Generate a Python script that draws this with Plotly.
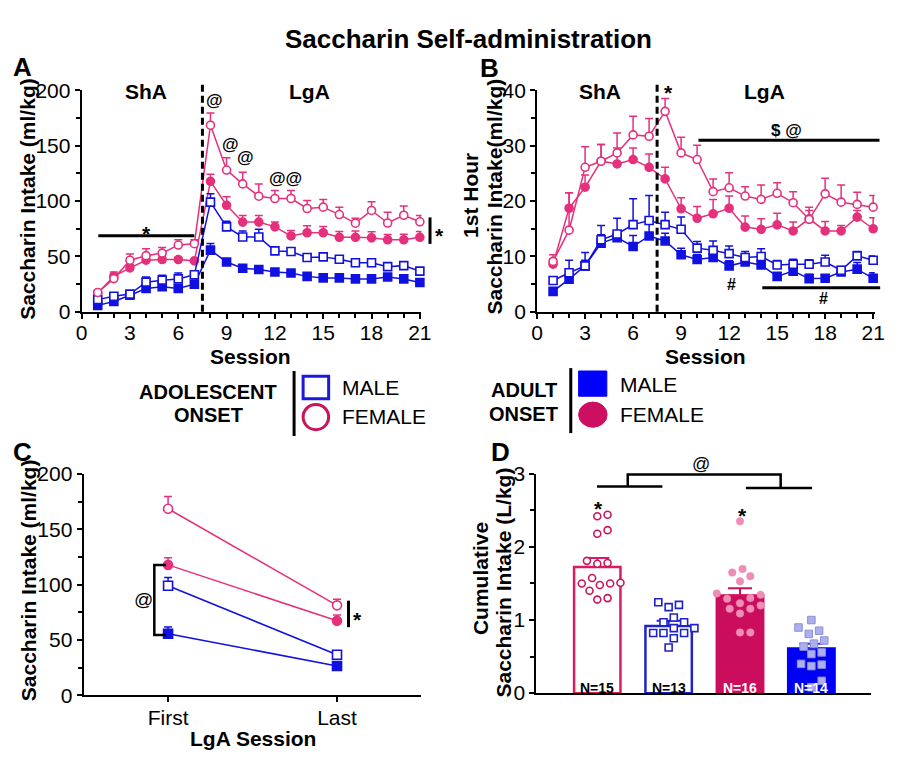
import plotly.graph_objects as go

W, H = 899, 774
FONT = "Liberation Sans, Arial, sans-serif"
PINK = "#E5307C"
BLUE = "#1010E0"

# ---------------- data ----------------
sessions = list(range(1, 22))

A_adol_m = [11, 14, 16, 26.8, 28.6, 29.7, 33.5, 99, 76.7, 67.6, 67.6, 55, 54.5, 49, 49.6, 47.5, 44.3, 44.3, 40.8, 41.7, 36.7]
A_adol_m_err = [1.5, 2, 2, 4.7, 4.4, 5.3, 3.5, 7.5, 5, 5.4, 7, 2.7, 2.5, 1.5, 1.5, 1.5, 1.5, 1.5, 1.5, 1.5, 1.5]
A_adol_f = [17.5, 30, 46.6, 50.7, 53, 60.3, 61.5, 168.5, 128, 115.5, 104.4, 102.3, 102.3, 93.3, 94.5, 87.8, 80, 91.5, 80.2, 87.2, 81.3]
A_adol_f_err = [1.5, 6, 5.6, 6.3, 5, 4.7, 3.5, 11, 11, 10.5, 11.1, 7.3, 7.3, 7.3, 7, 6.7, 4.5, 7.9, 9.8, 8.4, 5.6]
A_adult_m = [5.8, 9.3, 15, 21, 22.7, 21, 25, 55.7, 45, 39.4, 38.2, 36, 35, 32, 30.6, 30.6, 29.7, 29.7, 31.5, 29.7, 26.5]
A_adult_m_err = [1, 1, 1.5, 2, 2, 2, 2, 6, 1.6, 1.5, 1.5, 1.5, 1.5, 1.5, 1.5, 1.5, 1.5, 1.5, 1.5, 1.5, 1.2]
A_adult_f = [17, 32, 39.7, 46.6, 47.2, 47.2, 46, 117.8, 96.2, 81, 81, 76.7, 68.5, 71.4, 71.4, 67.3, 67.3, 66.8, 65, 65, 67.3]
A_adult_f_err = [1, 2.5, 3, 3, 2, 2, 2, 6.5, 7.6, 5.9, 6, 4.3, 5, 6.4, 5.6, 5.3, 5.7, 5.5, 4.7, 5, 5.2]

B_adol_m = [5.65, 7.05, 8.3, 13, 14.05, 15.75, 16.5, 15.75, 14.9, 11.5, 11.1, 10.5, 9.8, 10, 8.45, 8.6, 8.6, 9, 7.5, 10.1, 9.3]
B_adol_m_err = [0.5, 2.25, 2.4, 2.6, 2.85, 4.65, 4.5, 2.25, 2.2, 1.2, 1.7, 1.4, 1.1, 1.4, 0.8, 0.9, 0.8, 1.2, 0.7, 0.8, 0.8]
B_adol_f = [9.1, 14.75, 26.1, 27.2, 28.7, 31.95, 31.7, 36.2, 28.7, 27.5, 21.7, 22.4, 20.9, 20.3, 21.4, 19.7, 16.7, 21.3, 19.8, 19.4, 18.9]
B_adol_f_err = [1.2, 6.75, 3.7, 3.0, 3.6, 3.35, 3.2, 2.3, 2.8, 2.6, 2.3, 2.7, 1.7, 2.6, 1.9, 2.0, 2.2, 2.8, 3.1, 2.2, 2.1]
B_adult_m = [3.7, 5.9, 8.3, 12.4, 13.4, 11.8, 13.7, 12.8, 10.3, 9.45, 9.8, 8.3, 9, 8.45, 6.4, 7.35, 6, 6.05, 7.2, 7.7, 6.05]
B_adult_m_err = [0.3, 0.5, 1, 1.5, 1.2, 2.0, 2.2, 1.4, 1.2, 0.9, 1, 0.9, 0.8, 0.7, 0.6, 0.6, 0.8, 0.6, 0.5, 1.2, 1.0]
B_adult_f = [8.6, 18.7, 22.5, 27.2, 26.7, 27.5, 26.1, 24, 18.6, 16.9, 17.7, 18.7, 15.3, 14.9, 15.7, 14.6, 16.8, 14.6, 14.6, 17.1, 15]
B_adult_f_err = [1, 2.8, 2.2, 3.0, 2.9, 2.1, 2.4, 2.1, 2.0, 2.1, 2.6, 2.2, 2.0, 1.9, 2.1, 1.6, 1.5, 1.7, 1.0, 1.2, 2.0]

C_categories = ["First", "Last"]
C_index = [7, 20]  # first (session 8) and last (session 21) LgA sessions

D_groups = ["Adolescent female", "Adolescent male", "Adult female", "Adult male"]
D_means = [1.726, 0.92, 1.336, 0.61]
D_sem = [0.124, 0.07, 0.098, 0.067]
D_n = [15, 13, 16, 14]
D_adol_f = [2.42, 2.44, 2.23, 2.18, 1.77, 1.78, 1.81, 1.575, 1.48, 1.50, 1.50, 1.51, 1.40, 1.28, 1.30]
D_adol_m = [1.243, 1.177, 1.208, 1.035, 0.97, 0.97, 0.89, 0.89, 0.823, 0.823, 0.823, 0.75, 0.624]
D_adult_f = [2.35, 1.65, 1.70, 1.60, 1.53, 1.345, 1.363, 1.23, 1.29, 1.20, 1.155, 1.09, 1.155, 0.83, 0.83, 1.30]
D_adult_m = [1.0, 0.854, 0.898, 0.81, 0.72, 0.637, 0.677, 0.535, 0.557, 0.40, 0.37, 0.39, 0.168, 0.08]

# ---------------- geometry (pixels) ----------------
PAN = {
    "A": dict(x=(77, 423), xr=(0, 21.1), y=(309, 80.7), yr=(0, 200)),
    "B": dict(x=(540.7, 884.5), xr=(0, 21.1), y=(309, 80.7), yr=(0, 40)),
    "C": dict(x=(79, 423), xr=(-0.5, 1.5), y=(704.3, 476), yr=(0, 200)),
    "D": dict(x=(540, 881), xr=(-0.853, 3.84), y=(702, 476), yr=(0, 3)),
}


def px(p):
    return p / W


def py(p):
    return 1 - p / H


def dx2px(panel, v):
    g = PAN[panel]
    return g["x"][0] + (v - g["xr"][0]) / (g["xr"][1] - g["xr"][0]) * (g["x"][1] - g["x"][0])


fig = go.Figure()


def series(xv, yv, err, color, symbol, filled, xa, ya, size=8):
    fig.add_trace(go.Scatter(
        x=xv, y=yv, mode="lines+markers", xaxis=xa, yaxis=ya, cliponaxis=False,
        line=dict(color=color, width=1.5),
        marker=dict(symbol=symbol, size=size,
                    color=color if filled else "white",
                    line=dict(color=color, width=1.6)),
        error_y=dict(type="data", symmetric=False, array=err,
                     arrayminus=[0] * len(err), color=color, thickness=1.5, width=4),
        showlegend=False, hoverinfo="skip"))


# Panel A
series(sessions, A_adult_m, A_adult_m_err, BLUE, "square", True, "x", "y")
series(sessions, A_adult_f, A_adult_f_err, PINK, "circle", True, "x", "y")
series(sessions, A_adol_m, A_adol_m_err, BLUE, "square", False, "x", "y")
series(sessions, A_adol_f, A_adol_f_err, PINK, "circle", False, "x", "y")
# Panel B
series(sessions, B_adult_m, B_adult_m_err, BLUE, "square", True, "x2", "y2")
series(sessions, B_adult_f, B_adult_f_err, PINK, "circle", True, "x2", "y2")
series(sessions, B_adol_m, B_adol_m_err, BLUE, "square", False, "x2", "y2")
series(sessions, B_adol_f, B_adol_f_err, PINK, "circle", False, "x2", "y2")
# Panel C
cx = list(range(len(C_categories)))
for vals, errs, col, sym, fil in [
    (A_adult_m, A_adult_m_err, BLUE, "square", True),
    (A_adult_f, A_adult_f_err, PINK, "circle", True),
    (A_adol_m, A_adol_m_err, BLUE, "square", False),
    (A_adol_f, A_adol_f_err, PINK, "circle", False),
]:
    series(cx, [vals[i] for i in C_index], [errs[i] for i in C_index], col, sym, fil, "x3", "y3", size=9)

# Panel D bars
bar_fill = ["white", "white", "#CB0D5E", "#0000F5"]
bar_line = ["#DC1A64", "#1E22C8", "#CB0D5E", "#0000F5"]
err_col = ["#DC1A64", "#1E22C8", "#D0105C", "#2A2AE8"]
for i in range(len(D_groups)):
    fig.add_trace(go.Bar(
        x=[i], y=[D_means[i]], width=0.65, xaxis="x4", yaxis="y4",
        marker=dict(color=bar_fill[i], line=dict(color=bar_line[i], width=2.5)),
        error_y=dict(type="data", symmetric=False, array=[D_sem[i]], arrayminus=[0],
                     color=err_col[i], thickness=2, width=12),
        showlegend=False, hoverinfo="skip"))

g = PAN["D"]
ppu_x = (g["x"][1] - g["x"][0]) / (g["xr"][1] - g["xr"][0])
ppu_y = (g["y"][0] - g["y"][1]) / (g["yr"][1] - g["yr"][0])


def swarm(vals, diam=10.5):
    order = sorted(range(len(vals)), key=lambda i: vals[i])
    placed = []
    offs = [0.0] * len(vals)
    step = diam / 4
    cands = [0.0]
    for k in range(1, 60):
        cands += [k * step, -k * step]
    for i in order:
        yp = vals[i] * ppu_y
        c = 0.0
        for c in cands:
            if all((c - a) ** 2 + (yp - b) ** 2 >= diam ** 2 for a, b in placed):
                break
        placed.append((c, yp))
        offs[i] = c / ppu_x
    return offs


pts_style = [
    dict(symbol="circle", size=7, color="white", line=dict(color="#C8175C", width=1.6)),
    dict(symbol="square", size=7, color="white", line=dict(color="#1E22C8", width=1.6)),
    dict(symbol="circle", size=7.5, color="#F08DB5", line=dict(color="#EE86AF", width=0.5)),
    dict(symbol="square", size=7.5, color="#AEB0EC", line=dict(color="#8A8FDA", width=1)),
]
for i, vals in enumerate([D_adol_f, D_adol_m, D_adult_f, D_adult_m]):
    offs = swarm(vals)
    fig.add_trace(go.Scatter(
        x=[i + o for o in offs], y=vals, mode="markers", xaxis="x4", yaxis="y4",
        marker=pts_style[i], cliponaxis=False, showlegend=False, hoverinfo="skip"))

# ---------------- axes ----------------
axis_common = dict(showgrid=False, zeroline=False, showline=True, linecolor="black",
                   linewidth=2, ticks="outside", tickwidth=2, ticklen=5, tickcolor="black",
                   tickfont=dict(family=FONT, size=21, color="black"))


def xdom(p):
    g = PAN[p]
    return [px(g["x"][0]), px(g["x"][1])]


def ydom(p):
    g = PAN[p]
    return [py(g["y"][0]), py(g["y"][1])]


minor_x = dict(dtick=1, ticks="outside", ticklen=4, tickwidth=1.5, tickcolor="black")
minor_y = lambda d: dict(dtick=d, ticks="outside", ticklen=4, tickwidth=1.5, tickcolor="black")
fig.update_layout(
    xaxis=dict(axis_common, domain=xdom("A"), range=list(PAN["A"]["xr"]), tick0=0, dtick=3,
               minor=minor_x, anchor="y", ticklabelstandoff=-4),
    yaxis=dict(axis_common, domain=ydom("A"), range=list(PAN["A"]["yr"]), tick0=0, dtick=50,
               minor=minor_y(25), anchor="x"),
    xaxis2=dict(axis_common, domain=xdom("B"), range=list(PAN["B"]["xr"]), tick0=0, dtick=3,
                minor=minor_x, anchor="y2", ticklabelstandoff=-4),
    yaxis2=dict(axis_common, domain=ydom("B"), range=list(PAN["B"]["yr"]), tick0=0, dtick=10,
                minor=minor_y(5), anchor="x2"),
    xaxis3=dict(axis_common, domain=xdom("C"), range=list(PAN["C"]["xr"]), tickmode="array",
                tickvals=cx, ticktext=C_categories, anchor="y3", ticklabelstandoff=-3),
    yaxis3=dict(axis_common, domain=ydom("C"), range=list(PAN["C"]["yr"]), tick0=0, dtick=50,
                minor=minor_y(25), anchor="x3"),
    xaxis4=dict(axis_common, domain=xdom("D"), range=list(PAN["D"]["xr"]), ticks="",
                showticklabels=False, anchor="y4"),
    yaxis4=dict(axis_common, domain=ydom("D"), range=list(PAN["D"]["yr"]), tick0=0, dtick=1,
                minor=minor_y(0.5), anchor="x4"),
    barmode="overlay",
    width=W, height=H, margin=dict(l=0, r=0, t=0, b=0),
    paper_bgcolor="white", plot_bgcolor="white", showlegend=False,
)

# ---------------- annotations ----------------
anns = []


def ann(text, x, y, size=20, bold=False, color="black", xanchor="center", angle=0):
    anns.append(dict(text=("<b>%s</b>" % text) if bold else text, x=px(x), y=py(y),
                     xref="paper", yref="paper", showarrow=False, xanchor=xanchor,
                     yanchor="middle", textangle=angle,
                     font=dict(family=FONT, size=size, color=color)))


ann("Saccharin Self-administration", 471, 28, 26, True)
ann("A", 17, 57, 26, True)
ann("B", 492, 58, 26, True)
ann("C", 17, 453, 26, True)
ann("D", 503, 453, 26, True)

# axis titles
ann("Saccharin Intake (ml/kg)", 22, 193, 21, True, angle=-90)
ann("Session", 249, 355, 21, True)
ann("1st Hour", 473, 189, 21, True, angle=-90)
ann("Saccharin Intake(ml/kg)", 497, 190, 21, True, angle=-90)
ann("Session", 712, 355, 21, True)
ann("Saccharin Intake (ml/kg)", 23, 586, 21, True, angle=-90)
ann("LgA Session", 251, 749, 21, True)
ann("Cumulative", 483, 584, 21, True, angle=-90)
ann("Saccharin Intake (L/kg)", 507, 588, 21, True, angle=-90)

# panel A marks
ann("ShA", 143, 82, 21, True)
ann("LgA", 309, 82, 21, True)
ann("@", 212, 91, 17, True)
ann("@", 229, 137, 17, True)
ann("@", 244, 150, 17, True)
ann("@@", 285, 172, 17, True)
ann("*", 143, 228, 21, True)
ann("*", 441, 230, 21, True)
# panel B marks
ann("ShA", 605, 82, 21, True)
ann("LgA", 772, 82, 21, True)
ann("*", 674, 83, 21, True)
ann("$ @", 795, 122, 17, True)
ann("#", 739, 281, 16, True)
ann("#", 832, 295, 16, True)
# panel C marks
ann("@", 140, 606, 19)
ann("*", 358, 626, 21, True)
# panel D marks
ann("@", 708, 466, 18)
ann("*", 603, 512, 21, True)
ann("*", 750, 519, 21, True)
for i, n in enumerate(D_n):
    anns.append(dict(text="<b>N=%d</b>" % n, x=i, y=py(696.5), xref="x4", yref="paper",
                     showarrow=False, xanchor="center", yanchor="middle",
                     font=dict(family=FONT, size=14, color="black" if i < 2 else "white")))

# legend text
ann("ADOLESCENT", 206, 392, 20, True)
ann("ONSET", 206, 415.5, 20, True)
ann("MALE", 340, 387, 21, xanchor="left")
ann("FEMALE", 340, 417, 21, xanchor="left")
ann("ADULT", 527, 390, 20, True)
ann("ONSET", 527, 414, 20, True)
ann("MALE", 623, 384, 21, xanchor="left")
ann("FEMALE", 623, 415, 21, xanchor="left")

fig.update_layout(annotations=anns)

# ---------------- shapes ----------------
shapes = []


def line(x0, y0, x1, y1, w=3, dash=None):
    shapes.append(dict(type="line", xref="paper", yref="paper", x0=px(x0), y0=py(y0),
                       x1=px(x1), y1=py(y1), line=dict(color="black", width=w, dash=dash)))


def path(pts, w=2.5):
    d = "M " + " L ".join("%f,%f" % (px(a), py(b)) for a, b in pts)
    shapes.append(dict(type="path", xref="paper", yref="paper", path=d,
                       line=dict(color="black", width=w)))


# dashed ShA/LgA separators at session 7.5
xa = dx2px("A", 7.5)
line(xa, 309, xa, 73.3, 3, "7px,4px")
xb = dx2px("B", 7.5)
line(xb, 309, xb, 71.7, 3, "7px,4px")
# panel A significance
line(94, 230.7, 191.7, 230.7, 3)
line(431.7, 211.7, 431.7, 239, 3)
# panel B significance
line(705, 132.3, 889.3, 132.3, 3)
line(770, 284.3, 890, 284.3, 3)
# panel C
path([(163, 570), (151, 570), (151, 642), (163, 642)], 2.5)
line(348.7, 606.7, 348.7, 634, 3)
# panel D bracket
line(601.7, 489, 668.3, 489, 2.5)
path([(633, 489), (633, 476.7), (788.7, 476.7), (788.7, 490.7)], 2.5)
line(753.3, 490.7, 820.7, 490.7, 2.5)

# legend glyphs
line(293.3, 370, 293.3, 437, 3)
shapes.append(dict(type="rect", xref="paper", yref="paper", x0=px(302.5), x1=px(328.5),
                   y0=py(398.5), y1=py(375.5), fillcolor="white",
                   line=dict(color="#1A1ADB", width=3)))
shapes.append(dict(type="circle", xref="paper", yref="paper", x0=px(302.5), x1=px(328.5),
                   y0=py(430.5), y1=py(404.5), fillcolor="white",
                   line=dict(color="#C8145A", width=3)))
line(575, 367, 575, 434, 3)
shapes.append(dict(type="rect", xref="paper", yref="paper", x0=px(583), x1=px(611.7),
                   y0=py(396), y1=py(370), fillcolor="#0000FF",
                   line=dict(color="#0000FF", width=1)))
shapes.append(dict(type="circle", xref="paper", yref="paper", x0=px(583), x1=px(612),
                   y0=py(428), y1=py(402), fillcolor="#CC0F60",
                   line=dict(color="#CC0F60", width=1)))

fig.update_layout(shapes=shapes)
fig.write_html("out.html", config={"displayModeBar": False},
               post_script="document.body.style.margin='0';document.body.style.overflow='hidden';")
